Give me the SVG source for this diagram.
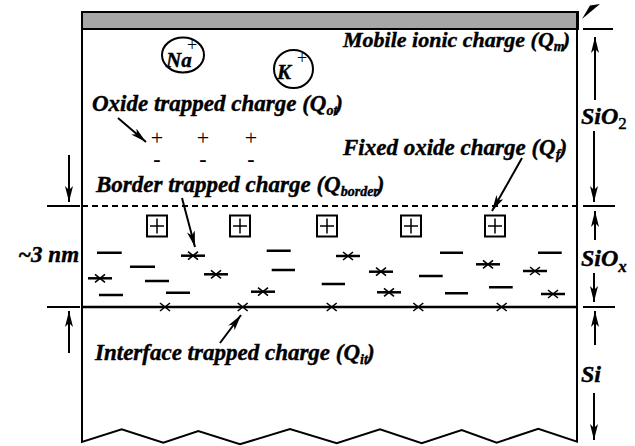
<svg xmlns="http://www.w3.org/2000/svg" width="635" height="446" viewBox="0 0 635 446">
<style>
.lbl{font-family:"Liberation Serif","Times New Roman",serif;font-weight:bold;font-style:italic;font-size:23px;fill:#000;stroke:#000;stroke-width:0.4}
.sub{font-size:14px}
.ln{stroke:#000;stroke-width:2;fill:none}
.arr{stroke:#000;stroke-width:2;fill:none;marker-end:url(#ah)}
.sign{font-family:"Liberation Serif","Times New Roman",serif;font-size:22px;fill:#000;text-anchor:middle}
.dash{stroke:#000;stroke-width:2.5}
.xm{stroke:#000;stroke-width:1.6}
</style>
<defs>
<marker id="ah" viewBox="0 0 16 8" refX="16" refY="4" markerWidth="16" markerHeight="8" orient="auto" markerUnits="userSpaceOnUse">
<path d="M0,0 L16,4 L0,8 L4,4 z" fill="#000"/>
</marker>
<g id="bp">
<rect x="-10" y="-10.5" width="20" height="21" fill="#fff" stroke="#000" stroke-width="2"/>
<path d="M-7,0 H7 M0,-7.5 V7.5" stroke="#000" stroke-width="1.5"/>
</g>
<g id="xd">
<path d="M-12,0 H12" class="dash"/>
<path d="M-5,-4 L5,4 M-5,4 L5,-4" class="xm"/>
</g>
<g id="xi">
<path d="M-5,-4 L5,4 M-5,4 L5,-4" class="xm"/>
</g>
</defs>
<rect width="635" height="446" fill="#fff"/>

<g id="structure">
<rect x="82" y="12" width="496" height="17" fill="#a6a6a6" stroke="#000" stroke-width="2"/>
<path d="M82,29 V442 L121.7,429.3 L163.3,442.7 L198.3,431 L240,444.3 L290,429 L336.7,443.3 L380,429.3 L421.7,443.3 L461.7,430 L496.7,442.7 L538.3,428.7 L577,441.7 V12" class="ln"/>
<path d="M82,206 H578" stroke="#000" stroke-width="2" stroke-dasharray="6,4"/>
<path d="M82,307 H578" stroke="#000" stroke-width="2.5"/>
</g>

<g id="mobile-ions">
<ellipse cx="183" cy="55" rx="21" ry="17.5" class="ln"/>
<text x="166" y="67" class="lbl" style="font-size:21px">Na</text>
<text x="192" y="51" class="sign" style="font-size:18px">+</text>
<ellipse cx="293.5" cy="69" rx="19.5" ry="19" class="ln"/>
<text x="277" y="79" class="lbl" style="font-size:21px">K</text>
<text x="302" y="64" class="sign" style="font-size:18px">+</text>
</g>

<g id="oxide-trapped">
<text x="157" y="145" class="sign">+</text>
<text x="203" y="145" class="sign">+</text>
<text x="251" y="145" class="sign">+</text>
<text x="157" y="166" class="sign" style="font-weight:bold">-</text>
<text x="203" y="166" class="sign" style="font-weight:bold">-</text>
<text x="251" y="166" class="sign" style="font-weight:bold">-</text>
</g>

<g id="fixed-charges">
<use href="#bp" x="157" y="226"/>
<use href="#bp" x="240" y="226"/>
<use href="#bp" x="327" y="226"/>
<use href="#bp" x="411" y="226"/>
<use href="#bp" x="495" y="226"/>
</g>

<g id="border-traps">
<path class="dash" d="M97,252.7 H121.7 M130,266.7 H155 M145,281 H169 M99,295 H123 M166,292.7 H190 M266.7,250.7 H290.7 M271.7,270 H295 M321.7,284 H345 M419,276 H442.7 M440,252.7 H463 M445,293.3 H468 M489,287.3 H512.7 M538,252.7 H561.7"/>
<use href="#xd" x="100" y="278.3"/>
<use href="#xd" x="193" y="255.7"/>
<use href="#xd" x="216" y="274.3"/>
<use href="#xd" x="263" y="291.7"/>
<use href="#xd" x="348" y="256"/>
<use href="#xd" x="381" y="271.7"/>
<use href="#xd" x="389" y="292.3"/>
<use href="#xd" x="488" y="264.3"/>
<use href="#xd" x="535" y="271"/>
<use href="#xd" x="553" y="294"/>
</g>

<g id="interface-traps">
<use href="#xi" x="165" y="307"/>
<use href="#xi" x="242.7" y="307"/>
<use href="#xi" x="331.7" y="307"/>
<use href="#xi" x="418.3" y="307"/>
<use href="#xi" x="501.7" y="307"/>
</g>

<g id="label-mobile"><text x="343" y="47" class="lbl" style="font-size:22px">Mobile ionic charge (Q<tspan class="sub" dy="4">m</tspan><tspan dy="-4" dx="-2">)</tspan></text></g>
<g id="label-oxide"><text x="92" y="111" class="lbl">Oxide trapped charge (Q<tspan class="sub" dy="4">ot</tspan><tspan dy="-4" dx="-2">)</tspan></text></g>
<g id="label-fixed"><text x="343" y="155" class="lbl">Fixed oxide charge (Q<tspan class="sub" dy="4">f</tspan><tspan dy="-4" dx="-1">)</tspan></text></g>
<g id="label-border"><text x="96" y="192" class="lbl">Border trapped charge (Q<tspan class="sub" dy="4">border</tspan><tspan dy="-4" dx="-2">)</tspan></text></g>
<g id="label-interface"><text x="95" y="360" class="lbl">Interface trapped charge (Q<tspan class="sub" dy="4">it</tspan><tspan dy="-4" dx="-1">)</tspan></text></g>
<g id="label-3nm"><text x="18" y="262" class="lbl">~3 nm</text></g>
<g id="label-sio2"><text x="581" y="124" class="lbl" style="font-size:24px">SiO<tspan dy="5" style="font-style:normal;font-weight:normal;font-size:17px">2</tspan></text></g>
<g id="label-siox"><text x="581" y="266" class="lbl" style="font-size:24px">SiO<tspan dy="6" style="font-size:17px">x</tspan></text></g>
<g id="label-si"><text x="581" y="382" class="lbl" style="font-size:24px">Si</text></g>

<g id="connectors">
<path class="arr" d="M118,118 L146,142"/>
<path class="arr" d="M522,158 L492,211"/>
<path class="arr" d="M182,198 L195,247"/>
<path class="arr" d="M220,343 L241,315"/>
<path d="M583,29 H613 M583,206 H615 M583,307 H615 M47,206 H80 M47,307 H80" class="ln"/>
<path class="arr" d="M595,100 V37"/>
<path class="arr" d="M594,131 V202"/>
<path class="arr" d="M595,240 V211"/>
<path class="arr" d="M594,273 V302"/>
<path class="arr" d="M595,345 V311"/>
<path class="arr" d="M594,393 V440"/>
<path class="arr" d="M69,155 V202"/>
<path class="arr" d="M69,353 V311"/>
<path d="M600,4 L582,19 L590,5.5 Z" fill="#000"/>
</g>
</svg>
